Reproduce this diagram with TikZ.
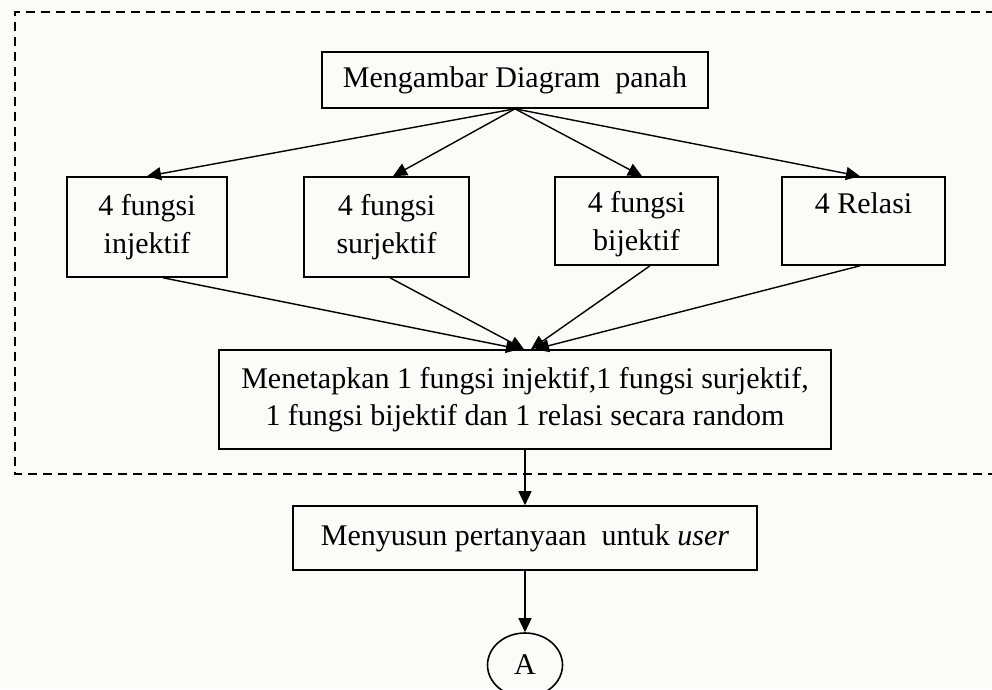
\documentclass[tikz,border=0pt]{standalone}
\usepackage{fontspec}
\setmainfont{Liberation Serif}
\usetikzlibrary{arrows.meta,shapes.geometric}
\definecolor{paper}{RGB}{251,251,248}
\begin{document}
\begin{tikzpicture}[x=1pt,y=-1pt,
  box/.style={draw, line width=1.6pt, inner sep=0pt, align=center,
    font=\fontsize{30}{37.5}\selectfont},
  oneline/.style={text height=21pt, text depth=37pt},
  twoline/.style={text height=65pt, text depth=7pt},
  link/.style={line width=1.4pt},
  arr/.style={link, -{Triangle[length=14pt,width=13pt]}},
  frame/.style={line width=2pt, dash pattern=on 9pt off 6pt}]
\useasboundingbox (0,0) rectangle (992,689);
\fill[paper] (0,0) rectangle (992,689);
\clip (0,0) rectangle (992,689);

% dashed frame around the diagram-drawing stage (open to the right)
\draw[frame] (1010,12) -- (15,12) -- (15,474) -- (1010,474);

% process boxes
\node[box, minimum width=386pt, minimum height=56pt] (top) at (515,80) {Mengambar Diagram\ \ panah};
\node[box, minimum width=160pt, minimum height=100pt] (inj) at (147,227) {4 fungsi\\injektif};
\node[box, minimum width=165pt, minimum height=100pt] (sur) at (386.5,227) {4 fungsi\\surjektif};
\node[box, twoline, minimum width=163pt, minimum height=88pt] (bij) at (636.5,221) {4 fungsi\\bijektif};
\node[box, oneline, minimum width=163pt, minimum height=88pt] (rel) at (863.5,221) {4 Relasi};
\node[box, minimum width=612pt, minimum height=99pt] (pick) at (525,399.5)
  {Menetapkan 1 fungsi injektif,1 fungsi surjektif,\\1 fungsi bijektif dan 1 relasi secara random};
\node[box, minimum width=464pt, minimum height=64pt] (ask) at (525,538) {Menyusun pertanyaan\ \ untuk \textit{user}};
\node[draw, ellipse, line width=1.6pt, minimum width=75pt, minimum height=64pt, inner sep=0pt,
  font=\fontsize{30}{36}\selectfont] (conA) at (525,665) {A};

% connectors
\draw[arr] (top.south) -- (inj.north);
\draw[arr] (top.south) -- ([xshift=6.5pt]sur.north);
\draw[arr] (top.south) -- ([xshift=5.5pt]bij.north);
\draw[arr] (top.south) -- ([xshift=-3.5pt]rel.north);
\draw[arr] ([xshift=16pt]inj.south) -- ([xshift=-5pt]pick.north);
\draw[arr] ([xshift=3.5pt]sur.south) -- ([xshift=-1pt]pick.north);
\draw[arr] ([xshift=13.5pt]bij.south) -- ([xshift=6pt]pick.north);
\draw[arr] ([xshift=-3.5pt]rel.south) -- ([xshift=10pt]pick.north);
\draw[arr] (pick.south) -- (ask.north);
\draw[arr] (ask.south) -- (conA.north);
\end{tikzpicture}
\end{document}
